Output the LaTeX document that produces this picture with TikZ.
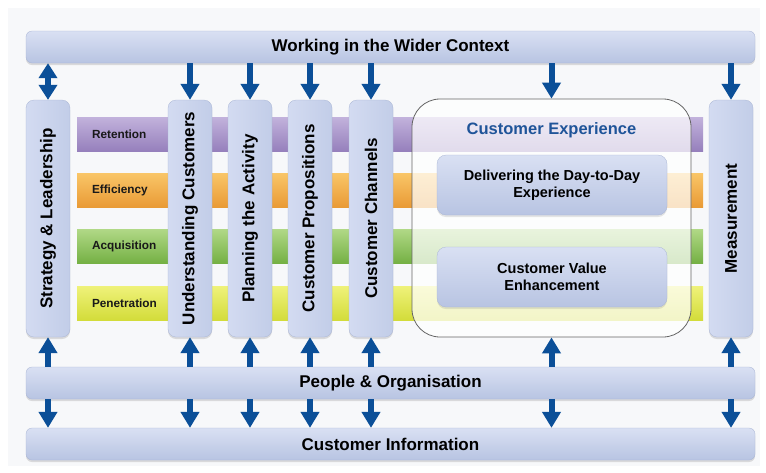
\documentclass[tikz,border=0pt]{standalone}
\usepackage{fontspec}
\setmainfont{Liberation Sans}
\usetikzlibrary{arrows.meta,shadows}
\definecolor{bgc}{HTML}{F7F8FA}
\definecolor{barTop}{HTML}{D9E0F3}
\definecolor{barBot}{HTML}{B8C4E2}
\definecolor{colL}{HTML}{D3DBF1}
\definecolor{colR}{HTML}{C2CDE8}
\definecolor{barEdge}{HTML}{A9B5D4}
\definecolor{arrowblue}{HTML}{0B4F98}
\definecolor{ceblue}{HTML}{1F5499}
\definecolor{retT}{HTML}{C2B2DC}
\definecolor{retB}{HTML}{9680BC}
\definecolor{effT}{HTML}{F9C567}
\definecolor{effB}{HTML}{E99A35}
\definecolor{acqT}{HTML}{B0D886}
\definecolor{acqB}{HTML}{74B043}
\definecolor{penT}{HTML}{EFF27A}
\definecolor{penB}{HTML}{D3DC3A}
\begin{document}
\begin{tikzpicture}[x=1pt,y=-1pt,
  bar/.style={rounded corners=6pt, top color=barTop, bottom color=barBot, draw=barEdge, line width=0.3pt,
    drop shadow={shadow xshift=0pt, shadow yshift=-2pt, opacity=0.25},
    inner sep=0pt, font=\fontsize{17}{20}\selectfont\bfseries, text=black},
  col/.style={rounded corners=8pt, left color=colL, right color=colR, draw=barEdge, line width=0.3pt,
    drop shadow={shadow xshift=0pt, shadow yshift=-2pt, opacity=0.25},
    minimum width=44pt, minimum height=237pt, inner sep=0pt},
  coltext/.style={rotate=90, font=\fontsize{17}{20}\selectfont\bfseries, text=black, inner sep=0pt},
  band/.style={minimum width=626pt, minimum height=34pt, inner sep=0pt},
  bandlabel/.style={anchor=west, font=\fontsize{11.8}{14}\selectfont\bfseries, text=black!90, inner sep=0pt},
  inbox/.style={rounded corners=9pt, top color=barTop, bottom color=barBot, draw=barEdge, line width=0.3pt,
    drop shadow={shadow xshift=0pt, shadow yshift=-2pt, opacity=0.2},
    minimum width=230pt, minimum height=60pt, inner sep=0pt, align=center,
    font=\fontsize{14.5}{17}\selectfont\bfseries, text=black},
  arr/.style={draw=arrowblue, line width=6pt, -{Triangle[width=18pt,length=16pt]}},
  darr/.style={draw=arrowblue, line width=6pt, {Triangle[width=18pt,length=15pt]}-{Triangle[width=18pt,length=15pt]}}
]
\useasboundingbox (0,0) rectangle (766,472);
\fill[white] (0,0) rectangle (766,472);
\fill[bgc] (8,8) rectangle (760,466);

% coloured bands
\node[band, top color=retT, bottom color=retB] (ret) at (390,134) {};
\node[band, top color=effT, bottom color=effB] (eff) at (390,190.5) {};
\node[band, top color=acqT, bottom color=acqB] (acq) at (390,246.5) {};
\node[band, top color=penT, bottom color=penB] (pen) at (390,303) {};
\node[bandlabel] (retl) at ([xshift=15pt]ret.west) {Retention};
\node[bandlabel] (effl) at ([xshift=15pt]eff.west) {Efficiency};
\node[bandlabel] (acql) at ([xshift=15pt]acq.west) {Acquisition};
\node[bandlabel] (penl) at ([xshift=15pt]pen.west) {Penetration};

% customer experience
\node[rounded corners=28pt, fill=white, fill opacity=0.72, draw=black!60, draw opacity=1, line width=0.8pt,
  minimum width=279pt, minimum height=238pt, inner sep=0pt] (ce) at (551.5,218) {};
\node[font=\fontsize{16.5}{19}\selectfont\bfseries, text=ceblue, inner sep=0pt] (cet) at (551.5,130) {Customer Experience};
\node[inbox] (del) at (552,185) {Delivering the Day-to-Day\\Experience};
\node[inbox] (cve) at (552,277) {Customer Value\\Enhancement};

% columns
\node[col] (sl) at (48,218.5) {};
\node[col] (uc) at (190,218.5) {};
\node[col] (pa) at (250,218.5) {};
\node[col] (cp) at (310,218.5) {};
\node[col] (cc) at (371,218.5) {};
\node[col] (ms) at (731,218.5) {};
\node[coltext] (slt) at (sl.center) {Strategy \& Leadership};
\node[coltext] (uct) at (uc.center) {Understanding Customers};
\node[coltext] (pat) at (pa.center) {Planning the Activity};
\node[coltext] (cpt) at (cp.center) {Customer Propositions};
\node[coltext] (cct) at (cc.center) {Customer Channels};
\node[coltext] (mst) at (ms.center) {Measurement};

% horizontal bars
\node[bar, minimum width=729pt, minimum height=32pt] (ctx) at (390.5,47) {Working in the Wider Context};
\node[bar, minimum width=729pt, minimum height=32pt] (po) at (390.5,383) {People \& Organisation};
\node[bar, minimum width=729pt, minimum height=32pt] (ci) at (390.5,444) {Customer Information};

% arrows from the top bar
\draw[darr] (sl.north |- ctx.south) -- (sl.north);
\foreach \n in {uc,pa,cp,cc,ce,ms} {
  \draw[arr] (\n.north |- ctx.south) -- (\n.north);
}
% arrows from People & Organisation
\foreach \n in {sl,uc,pa,cp,cc,ce,ms} {
  \draw[arr] (\n.south |- po.north) -- (\n.south);
  \draw[arr] (\n.south |- po.south) -- (\n.south |- ci.north);
}
\end{tikzpicture}
\end{document}
